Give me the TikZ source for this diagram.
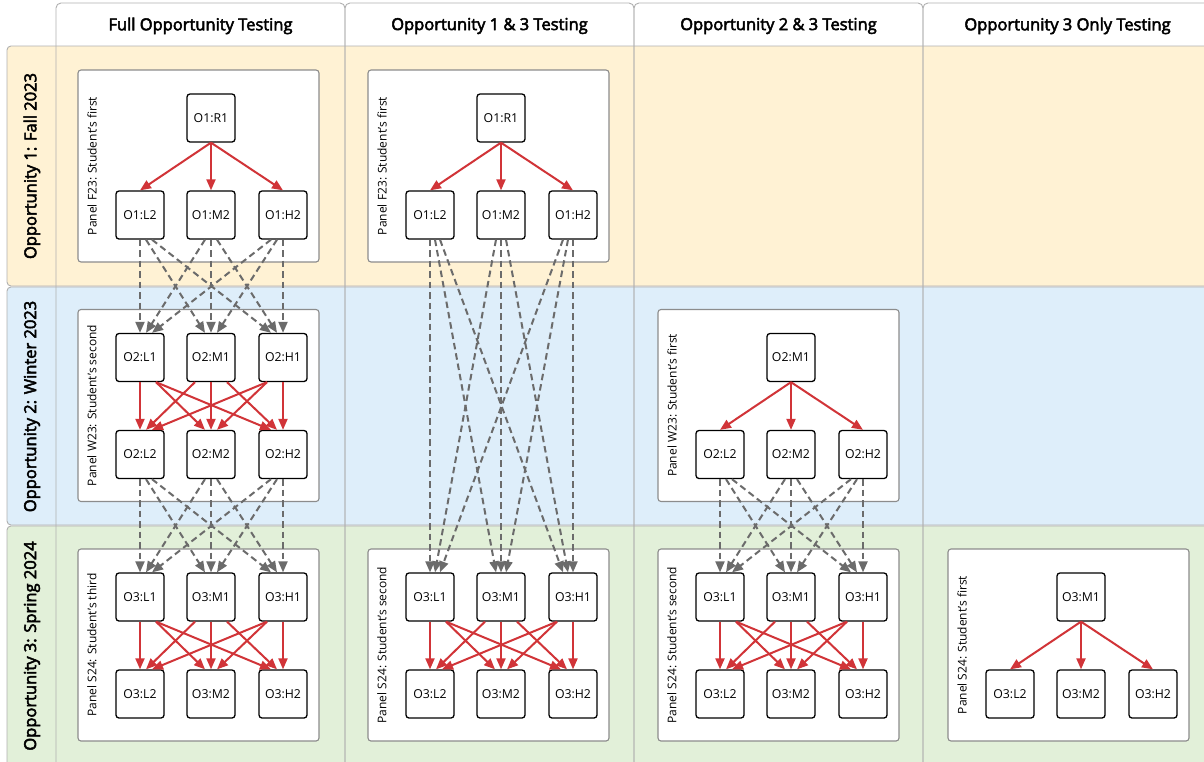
\documentclass[tikz,border=0pt]{standalone}
\usepackage{fontspec}
\setmainfont{Open Sans}
\newfontface\headfont{Open Sans}[FakeBold=3]
\usepackage{tikz}
\usetikzlibrary{positioning,arrows.meta,calc}
\definecolor{fallyellow}{HTML}{FFF2D4}
\definecolor{winterblue}{HTML}{DEEEFA}
\definecolor{springgreen}{HTML}{E2F0D9}
\definecolor{edgered}{HTML}{D13438}
\definecolor{edgegray}{HTML}{6B6B6B}
\definecolor{lanegray}{HTML}{B0B0B0}
\definecolor{panelgray}{HTML}{8C8C8C}

\begin{document}
\begin{tikzpicture}[x=1pt, y=-1pt,
  lane/.style={draw=lanegray, line width=0.9pt},
  panel/.style={draw=panelgray, fill=white, line width=1.1pt, rounded corners=3pt},
  box/.style={draw=black, fill=white, line width=1.3pt, rounded corners=3pt,
    minimum size=48pt, inner sep=0pt, font=\fontsize{12.3}{14}\selectfont},
  head/.style={font=\headfont\fontsize{16.5}{19}\selectfont},
  panellabel/.style={rotate=90, inner sep=0pt, font=\fontsize{12}{14}\selectfont},
  redarrow/.style={draw=edgered, line width=2pt, -{Triangle[length=11pt,width=9pt]}},
  grayarrow/.style={draw=edgegray, line width=2pt, dash pattern=on 6.5pt off 4pt,
    -{Triangle[length=11pt,width=9pt]}}]
  \useasboundingbox (0,0) rectangle (1204,761);
  \fill[white] (0,0) rectangle (1204,761);
  \clip (0,0) rectangle (1204,761);

  % row bands
  \draw[lane, fill=fallyellow, rounded corners=4pt] (7,46) rectangle (1230,286);
  \draw[lane, fill=winterblue, rounded corners=4pt] (7,287) rectangle (1230,525);
  \draw[lane, fill=springgreen, rounded corners=4pt] (7,526) rectangle (1230,766);

  % column lanes
  \foreach \c in {0,...,3}
    \draw[lane, rounded corners=5pt] ({56+289*\c},780) |- ({345+289*\c},3) -- ({345+289*\c},780);

  \node[head] (hfull) at (200.5,26) {Full Opportunity Testing};
  \node[head] (hone) at (489.5,26) {Opportunity 1 \& 3 Testing};
  \node[head] (htwo) at (778.5,26) {Opportunity 2 \& 3 Testing};
  \node[head] (hthree) at (1067.5,26) {Opportunity 3 Only Testing};

  \node[head, rotate=90] (rfall) at (32,166) {Opportunity 1: Fall 2023};
  \node[head, rotate=90] (rwinter) at (32,406.5) {Opportunity 2: Winter 2023};
  \node[head, rotate=90] (rspring) at (32,646) {Opportunity 3: Spring 2024};

  % panels
  \foreach \c/\r/\txt in {0/0/{Panel F23: Student's first}, 0/1/{Panel W23: Student's second},
      0/2/{Panel S24: Student's third}, 1/0/{Panel F23: Student's first},
      1/2/{Panel S24: Student's second}, 2/1/{Panel W23: Student's first},
      2/2/{Panel S24: Student's second}, 3/2/{Panel S24: Student's first}}{
    \draw[panel] ({78+290*\c},{70+239.5*\r}) rectangle ++(241,192);
    \node[panellabel] (lbl\c\r) at ({92+290*\c},{166+239.5*\r}) {\txt};
    \pgfmathtruncatemacro\o{\r+1}
    \foreach \i/\lev in {0/L,1/M,2/H}
      \node[box] (n\c\r-l\i) at ({round(139.5+71.5*\i)+290*\c},{215+239.5*\r}) {O\o:\lev2};
  }

  % panels with three starting items
  \foreach \c/\r in {0/1,0/2,1/2,2/2}{
    \pgfmathtruncatemacro\o{\r+1}
    \foreach \i/\lev in {0/L,1/M,2/H}
      \node[box] (n\c\r-u\i) at ({round(139.5+71.5*\i)+290*\c},{118+239.5*\r}) {O\o:\lev1};
    \foreach \s in {0,1,2}
      \foreach \t in {0,1,2}
        \draw[redarrow] ($(n\c\r-u\s.south)+({16*sign(\t-\s)},0)$) -- ($(n\c\r-l\t.north)+({6*(\s-\t)},0)$);
  }

  % panels with one starting item
  \foreach \c/\r/\txt in {0/0/O1:R1, 1/0/O1:R1, 2/1/O2:M1, 3/2/O3:M1}{
    \node[box] (n\c\r-u1) at ({211+290*\c},{118+239.5*\r}) {\txt};
    \foreach \t in {0,1,2}
      \draw[redarrow] (n\c\r-u1.south) -- (n\c\r-l\t.north);
  }

  % links between opportunities
  \foreach \c/\r/\q/\k in {0/0/1/6, 0/1/2/6, 1/0/2/5, 2/1/2/6}
    \foreach \s in {0,1,2}
      \foreach \t in {0,1,2}
        \draw[grayarrow] ($(n\c\r-l\s.south)+({\k*(\t-\s)},0)$) -- ($(n\c\q-u\t.north)+({\k*(\s-\t)},0)$);
\end{tikzpicture}
\end{document}
